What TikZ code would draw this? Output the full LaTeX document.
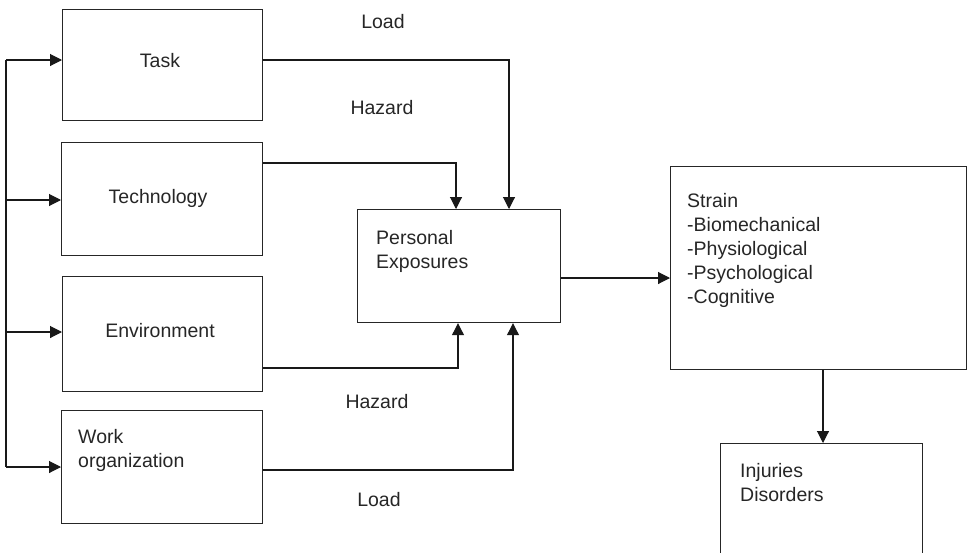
\documentclass[tikz,border=0pt]{standalone}
\usepackage{fontspec}
\setmainfont{Liberation Sans}
\usetikzlibrary{arrows.meta}
\begin{document}
\begin{tikzpicture}[x=1pt,y=-1pt,
  box/.style={draw=black!85, line width=1.2pt, inner sep=0pt, anchor=north west},
  lbl/.style={font=\fontsize{19.5}{24}\selectfont, text=black!85, inner sep=0pt},
  conn/.style={draw=black!90, line width=1.1pt},
  arr/.style={conn, -{Triangle[length=12pt,width=12pt]}}]
\useasboundingbox (0,0) rectangle (967,552);
\clip (0,0) rectangle (967,552);
% boxes
\node[box, minimum width=200pt, minimum height=111pt] (task) at (62,9) {};
\node[box, minimum width=201pt, minimum height=113pt] (tech) at (61,142) {};
\node[box, minimum width=200pt, minimum height=115pt] (env) at (62,276) {};
\node[box, minimum width=201pt, minimum height=113pt] (work) at (61,410) {};
\node[box, minimum width=203pt, minimum height=113pt] (pers) at (357,209) {};
\node[box, minimum width=296pt, minimum height=203pt] (strain) at (670,166) {};
\node[box, minimum width=202pt, minimum height=140pt] (inj) at (720,443) {};
% box texts (base anchor of a multi-line node = baseline of its last line)
\node[lbl, anchor=base] (tasktxt) at (160,67) {Task};
\node[lbl, anchor=base] (techtxt) at (158,203) {Technology};
\node[lbl, anchor=base] (envtxt) at (160,337) {Environment};
\node[lbl, anchor=base west, align=left] (worktxt) at (78,467) {Work\\organization};
\node[lbl, anchor=base west, align=left] (perstxt) at (376,268) {Personal\\Exposures};
\node[lbl, anchor=base west, align=left] (straintxt) at (687,303) {Strain\\-Biomechanical\\-Physiological\\-Psychological\\-Cognitive};
\node[lbl, anchor=base west, align=left] (injtxt) at (740,501) {Injuries\\Disorders};
% connector labels
\node[lbl, anchor=base] (load1) at (383,28) {Load};
\node[lbl, anchor=base] (haz1) at (382,114) {Hazard};
\node[lbl, anchor=base] (haz2) at (377,408) {Hazard};
\node[lbl, anchor=base] (load2) at (379,506) {Load};
% spine on the left
\coordinate (s1) at (6,60);
\coordinate (s2) at (6,200);
\coordinate (s3) at (6,332);
\coordinate (s4) at (6,467);
\draw[conn] (s1) -- (s4);
\draw[arr] (s1) -- (s1 -| task.west);
\draw[arr] (s2) -- (s2 -| tech.west);
\draw[arr] (s3) -- (s3 -| env.west);
\draw[arr] (s4) -- (s4 -| work.west);
% into personal exposures
\coordinate (c1) at (509,60);
\coordinate (c2) at (456,163);
\coordinate (c3) at (458,368);
\coordinate (c4) at (513,470);
\draw[arr] (c1 -| task.east) -- (c1) -- (c1 |- pers.north);
\draw[arr] (c2 -| tech.east) -- (c2) -- (c2 |- pers.north);
\draw[arr] (c3 -| env.east) -- (c3) -- (c3 |- pers.south);
\draw[arr] (c4 -| work.east) -- (c4) -- (c4 |- pers.south);
% onwards
\coordinate (c5) at (0,278);
\draw[arr] (c5 -| pers.east) -- (c5 -| strain.west);
\coordinate (c6) at (823,0);
\draw[arr] (c6 |- strain.south) -- (c6 |- inj.north);
\end{tikzpicture}
\end{document}
